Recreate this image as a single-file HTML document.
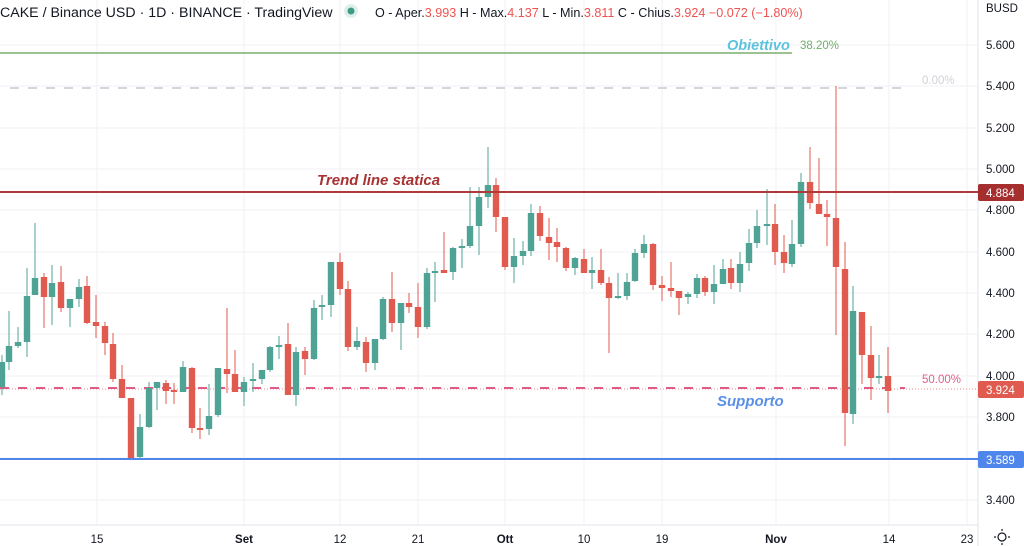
<!DOCTYPE html>
<html><head><meta charset="utf-8"><style>
html,body{margin:0;padding:0;background:#fff;}
body{width:1024px;height:546px;overflow:hidden;position:relative;font-family:"Liberation Sans",sans-serif;}
svg{position:absolute;left:0;top:0;}
</style></head><body>
<svg width="1024" height="546" viewBox="0 0 1024 546" xmlns="http://www.w3.org/2000/svg" font-family="Liberation Sans, sans-serif">
<g stroke="#f2f2f5" stroke-width="1">
<line x1="97" y1="0" x2="97" y2="525"/><line x1="244" y1="0" x2="244" y2="525"/><line x1="340" y1="0" x2="340" y2="525"/><line x1="418" y1="0" x2="418" y2="525"/><line x1="505" y1="0" x2="505" y2="525"/><line x1="584" y1="0" x2="584" y2="525"/><line x1="662" y1="0" x2="662" y2="525"/><line x1="776" y1="0" x2="776" y2="525"/><line x1="889" y1="0" x2="889" y2="525"/><line x1="967" y1="0" x2="967" y2="525"/>
<line x1="0" y1="45" x2="978" y2="45"/><line x1="0" y1="86" x2="978" y2="86"/><line x1="0" y1="128" x2="978" y2="128"/><line x1="0" y1="169" x2="978" y2="169"/><line x1="0" y1="210" x2="978" y2="210"/><line x1="0" y1="252" x2="978" y2="252"/><line x1="0" y1="293" x2="978" y2="293"/><line x1="0" y1="334" x2="978" y2="334"/><line x1="0" y1="376" x2="978" y2="376"/><line x1="0" y1="417" x2="978" y2="417"/><line x1="0" y1="458" x2="978" y2="458"/><line x1="0" y1="500" x2="978" y2="500"/>
</g>
<line x1="978" y1="0" x2="978" y2="546" stroke="#e0e3eb"/>
<line x1="0" y1="525" x2="978" y2="525" stroke="#e0e3eb"/>
<line x1="0" y1="53" x2="792" y2="53" stroke="#7cae6a" stroke-width="1.5"/>
<line x1="10" y1="88" x2="905" y2="88" stroke="#d4d6dd" stroke-width="2" stroke-dasharray="9,9"/>
<line x1="0" y1="389" x2="978" y2="389" stroke="#f08a8a" stroke-width="1" stroke-dasharray="1,2"/>
<line x1="0" y1="388" x2="905" y2="388" stroke="#e05a86" stroke-width="2" stroke-dasharray="9,9"/>
<g id="c"></g>
<line x1="0" y1="192" x2="978" y2="192" stroke="#b03a3a" stroke-width="2"/>
<line x1="0" y1="459" x2="978" y2="459" stroke="#4f86ec" stroke-width="2"/>
<text x="727" y="50" font-size="14.5" font-weight="bold" font-style="italic" fill="#5bc3df">Obiettivo</text>
<text x="800" y="49" font-size="11.5" fill="#6fae6a">38.20%</text>
<text x="922" y="84" font-size="11.5" fill="#d0d2d8">0.00%</text>
<text x="317" y="185" font-size="15" font-weight="bold" font-style="italic" fill="#a83232">Trend line statica</text>
<text x="922" y="383" font-size="11.5" fill="#e0608a">50.00%</text>
<text x="717" y="406" font-size="15" font-weight="bold" font-style="italic" fill="#5a8fe8">Supporto</text>
<text x="0" y="17" font-size="14.2" fill="#131722">CAKE / Binance USD · 1D · BINANCE · TradingView</text>
<circle cx="351" cy="11" r="7" fill="#dff0ec"/><circle cx="351" cy="11" r="3.5" fill="#3f9b86"/>
<text x="375" y="17" font-size="12.6" fill="#131722">O - Aper.<tspan fill="#ef5350">3.993</tspan>  H - Max.<tspan fill="#ef5350">4.137</tspan>  L - Min.<tspan fill="#ef5350">3.811</tspan>  C - Chius.<tspan fill="#ef5350">3.924  −0.072 (−1.80%)</tspan></text>
<g font-size="11.5" fill="#131722">
<text x="986" y="12">BUSD</text>
<text x="986" y="49">5.600</text><text x="986" y="90">5.400</text><text x="986" y="132">5.200</text><text x="986" y="173">5.000</text><text x="986" y="214">4.800</text><text x="986" y="256">4.600</text><text x="986" y="297">4.400</text><text x="986" y="338">4.200</text><text x="986" y="380">4.000</text><text x="986" y="421">3.800</text><text x="986" y="504">3.400</text>
</g>
<rect x="978" y="184" width="46" height="17" rx="2" fill="#a52f2f"/><text x="986" y="197" font-size="11.5" fill="#fff">4.884</text>
<rect x="978" y="381" width="46" height="17" rx="2" fill="#e05a4f"/><text x="986" y="394" font-size="11.5" fill="#fff">3.924</text>
<rect x="978" y="451" width="46" height="17" rx="2" fill="#4f86ec"/><text x="986" y="464" font-size="11.5" fill="#fff">3.589</text>
<g font-size="11.5" fill="#131722" text-anchor="middle">
<text x="97" y="543">15</text><text x="244" y="543" font-weight="bold">Set</text><text x="340" y="543">12</text><text x="418" y="543">21</text><text x="505" y="543" font-weight="bold">Ott</text><text x="584" y="543">10</text><text x="662" y="543">19</text><text x="776" y="543" font-weight="bold">Nov</text><text x="889" y="543">14</text><text x="967" y="543">23</text>
</g>
<g stroke="#131722" stroke-width="1.2" fill="none"><circle cx="1002" cy="537" r="4"/><line x1="1002" y1="529" x2="1002" y2="531"/><line x1="1002" y1="543" x2="1002" y2="545"/><line x1="994" y1="537" x2="996" y2="537"/><line x1="1008" y1="537" x2="1010" y2="537"/></g>
</svg>
<script>
var G="#4fa394",R="#e05a4f";
var d=[
[2,G,362,387,355,395],[9,G,346,362,311,370],[18,G,342,346,327,348],[27,G,296,342,268,357],[35,G,278,295,223,295],[44,R,277,297,273,328],[52,G,283,297,265,325],[61,R,282,308,266,312],[70,G,299,308,299,327],[79,G,287,299,279,307],[87,R,286,323,276,324],[96,R,322,326,295,338],[105,R,326,343,322,355],[113,R,344,379,333,382],[122,R,379,398,365,398],[131,R,398,458,398,459],[140,G,427,457,414,458],[149,G,388,427,382,428],[157,G,382,388,382,410],[166,R,383,391,380,404],[174,R,390,392,383,404],[183,G,367,392,361,392],[192,R,368,428,367,433],[200,R,428,430,408,439],[209,G,416,429,384,435],[218,G,368,415,368,417],[227,R,369,374,308,393],[235,R,374,392,350,392],[244,G,382,392,377,406],[253,G,379,381,363,392],[262,G,370,379,370,384],[270,G,347,370,346,372],[279,G,345,347,336,359],[288,R,344,395,323,395],[296,G,352,395,347,406],[305,R,351,359,347,375],[314,G,308,359,300,360],[322,G,305,307,295,320],[331,G,262,305,262,317],[340,R,262,289,253,295],[348,R,289,347,281,351],[357,G,341,347,327,350],[366,R,342,363,337,372],[375,G,339,363,339,370],[383,G,299,339,297,340],[392,R,299,323,272,332],[401,G,303,323,303,350],[409,R,303,307,293,313],[418,R,307,327,283,338],[427,G,273,327,268,329],[435,G,271,272,262,302],[444,R,270,273,232,273],[453,G,248,272,247,280],[462,G,246,247,239,268],[470,G,226,246,187,248],[479,G,197,226,187,255],[488,G,185,197,147,208],[496,R,185,217,178,232],[505,R,217,267,217,270],[514,G,256,267,238,283],[523,G,251,256,241,265],[531,G,213,251,204,256],[540,R,213,236,206,241],[549,R,237,243,218,260],[557,R,242,247,228,262],[566,R,248,268,247,271],[575,G,258,268,257,275],[584,R,259,273,249,273],[592,G,270,273,257,289],[601,R,270,283,249,285],[609,R,283,298,277,353],[618,G,296,297,273,299],[627,G,282,296,273,300],[635,G,253,281,249,282],[644,G,244,253,235,258],[653,R,244,285,243,290],[662,R,285,288,276,301],[671,R,288,291,262,297],[679,R,291,298,291,315],[688,G,294,297,292,304],[697,G,278,294,274,298],[705,R,278,292,276,296],[714,G,284,292,265,304],[723,G,269,284,259,284],[731,R,268,283,259,289],[740,G,264,283,252,292],[749,G,243,263,229,271],[757,G,226,243,210,248],[767,G,224,225,189,245],[775,R,224,252,204,265],[784,R,252,263,235,273],[792,G,244,264,220,267],[801,G,182,244,173,247],[810,R,182,203,147,209],[819,R,204,214,158,214],[827,R,214,217,200,246],[836,R,218,267,86,335],[845,R,269,413,242,446],[853,G,311,414,286,424],[862,R,312,355,312,384],[871,R,355,378,326,400],[879,G,376,378,355,384],[888,R,376,391,347,413]];
var s="";
d.forEach(function(c){var x=c[0],h=Math.max(c[3]-c[2],2);
s+='<line x1="'+x+'" y1="'+c[4]+'" x2="'+x+'" y2="'+c[5]+'" stroke="'+c[1]+'" stroke-width="1"/>';
s+='<rect x="'+(x-3.2)+'" y="'+c[2]+'" width="6.4" height="'+h+'" fill="'+c[1]+'"/>';});
document.getElementById("c").innerHTML=s;
</script>
</body></html>
